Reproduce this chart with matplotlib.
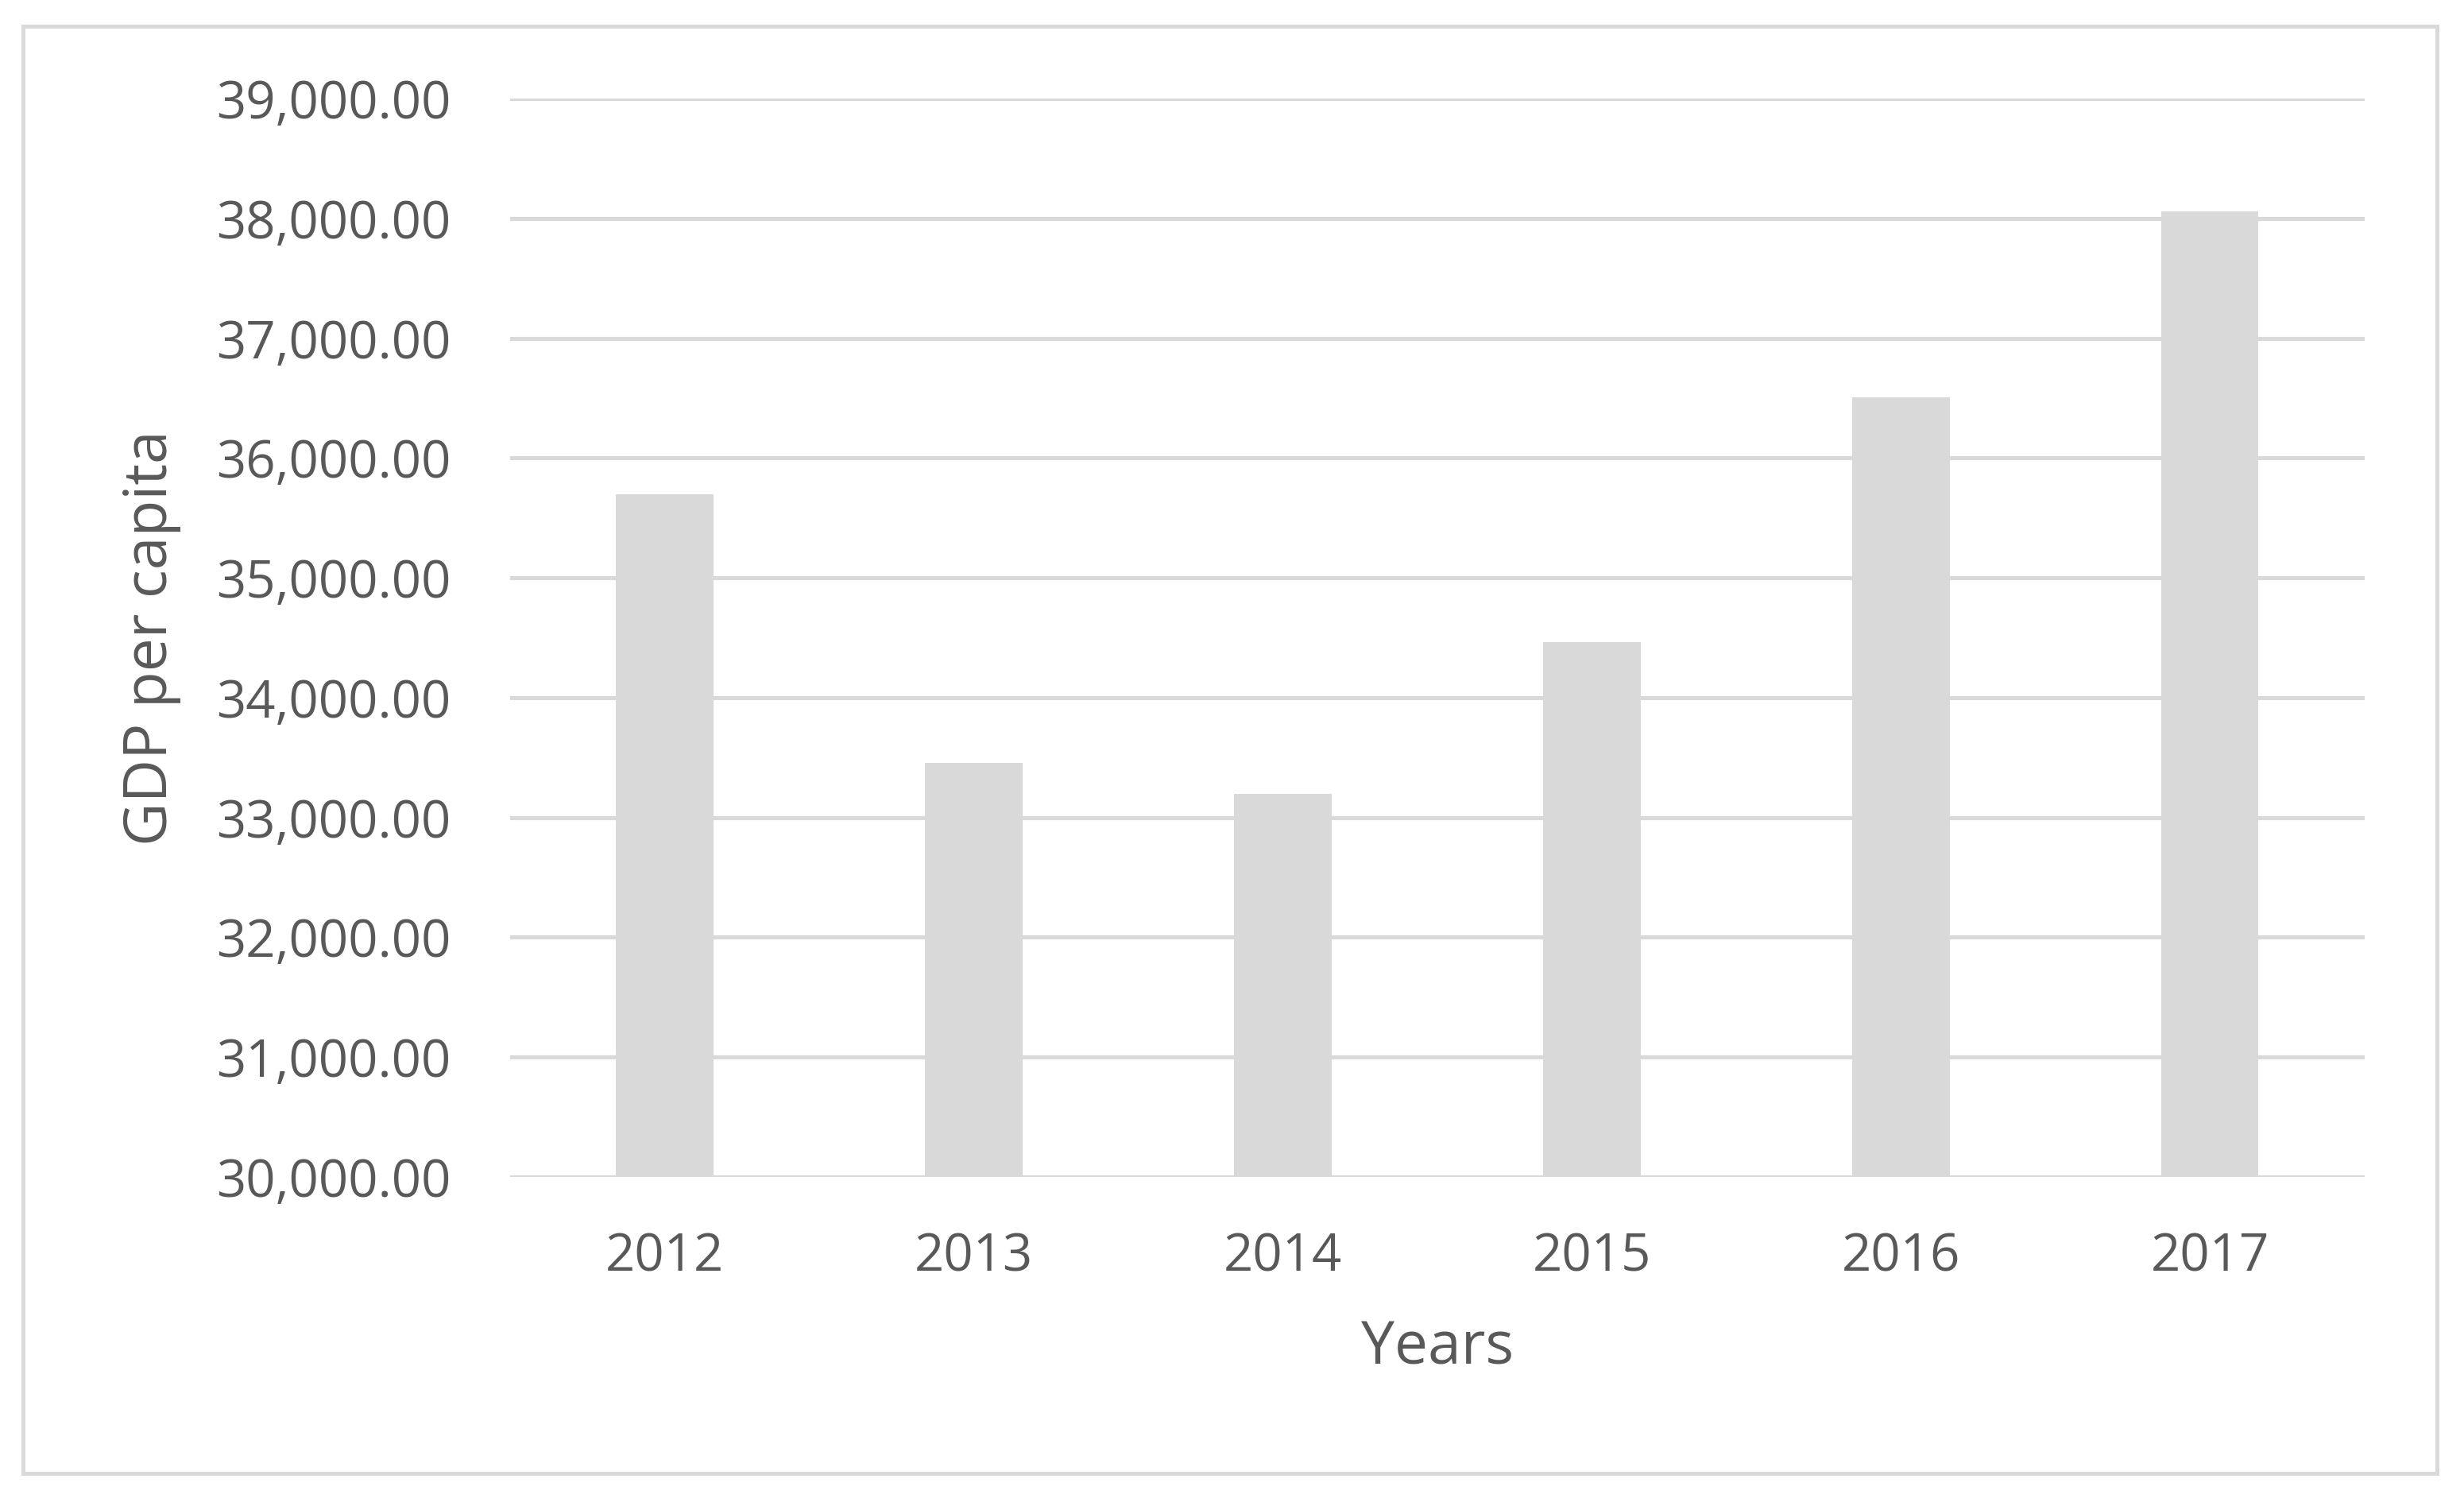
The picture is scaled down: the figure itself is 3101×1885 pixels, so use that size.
import numpy as np
import matplotlib
matplotlib.use('Agg')
from matplotlib import pyplot as plt
from matplotlib.patches import Rectangle
from matplotlib.ticker import FuncFormatter

#Data
years = ['2012', '2013', '2014', '2015', '2016', '2017']
gdp = [35700, 33455, 33200, 34465, 36505, 38058]

#Style
plt.rcParams['font.family'] = ['Open Sans', 'DejaVu Sans']
textcol = '#595959'
lightgray = '#d9d9d9'

W, H = 3101, 1885
fig = plt.figure(figsize=(W/100, H/100), dpi=100)
ax = fig.add_axes([642/W, 1-1481/H, (2975.5-642)/W, (1481-124)/H])

x = np.arange(len(years))
ax.bar(x, gdp, width=0.316, color=lightgray, zorder=3)

ax.set_xlim(-0.5, len(years)-0.5)
ax.set_ylim(30000, 39000)
ax.set_yticks(np.arange(30000, 39001, 1000))
ax.yaxis.set_major_formatter(FuncFormatter(lambda v, p: '{:,.2f}'.format(v)))
ax.set_xticks(x)
ax.set_xticklabels(years)

ax.grid(axis='y', color=lightgray, linewidth=3.7, zorder=0)
ax.set_axisbelow(True)
for s in ax.spines.values():
    s.set_visible(False)

ax.tick_params(axis='both', length=0, labelsize=47, labelcolor=textcol)
ax.tick_params(axis='y', pad=53.5)
ax.tick_params(axis='x', pad=49)

ax.set_xlabel('Years', fontsize=54, color=textcol, va='center')
ax.xaxis.set_label_coords(0.5, (1481-1697)/(1481-124))
ax.set_ylabel('GDP per capita', fontsize=54, color=textcol, va='center', ha='center')
ax.yaxis.set_label_coords((190-642)/(2975.5-642), 0.5)

#Outer border
fig.patches.append(Rectangle((29/W, 1-1854/H), (3067-29)/W, (1854-33)/H,
                             transform=fig.transFigure, fill=False,
                             edgecolor=lightgray, linewidth=3.6))

fig.savefig('out.png', dpi=100, facecolor='white')
